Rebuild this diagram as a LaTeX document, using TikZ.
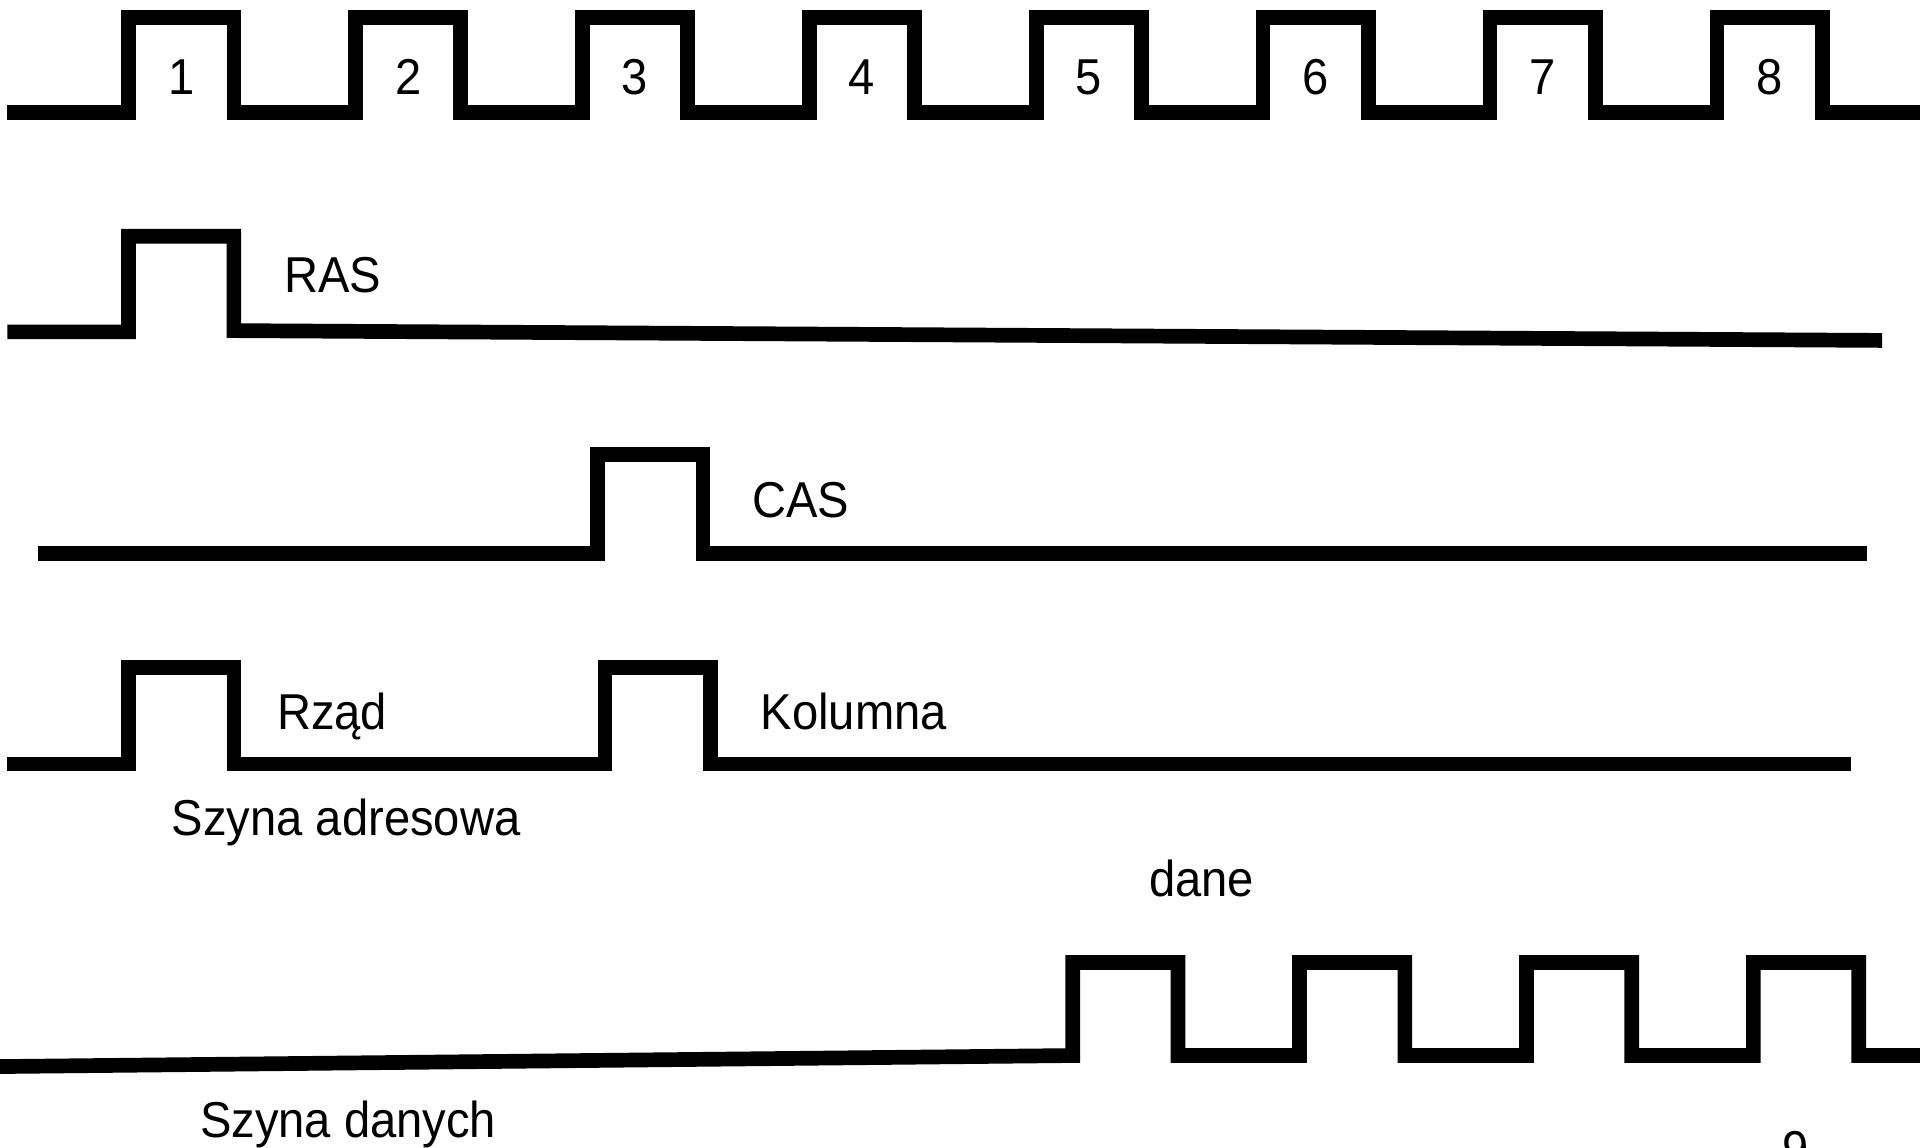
\documentclass[tikz,border=0pt]{standalone}
\usepackage{fontspec}
\setmainfont{Liberation Sans}
% slightly tall lettering
\newcommand{\tallText}[1]{\scalebox{1}[1.07]{#1}}
\begin{document}
\begin{tikzpicture}[x=0.6pt,y=-0.6pt,
  wave/.style={line width=7.2pt, line join=miter, line cap=butt},
  lbl/.style={inner sep=0pt, font=\fontsize{23.1pt}{27pt}\selectfont, anchor=base west},
  num/.style={inner sep=0pt, font=\fontsize{23.1pt}{27pt}\selectfont, anchor=base}]
\useasboundingbox (0,0) rectangle (1568,937);

% clock with eight numbered periods
\draw[wave] (6,92) foreach \k in {0,...,7} {
    -- ({105+185.3*\k},92) -- ({105+185.3*\k},14)
    -- ({191+185.3*\k},14) -- ({191+185.3*\k},92) } -- (1568,92);
\foreach \k [count=\n] in {0,...,7}
  \node[num] (clk\n) at ({148+185.3*\k},77) {\tallText{\n}};

% RAS strobe
\draw[wave] (6,271) -- (105,271) -- (105,193) -- (191,193) -- (191,270) -- (1537,278);
\node[lbl] (ras) at (232,239) {\tallText{RAS}};

% CAS strobe
\draw[wave] (31,452) -- (488,452) -- (488,371) -- (574,371) -- (574,452) -- (1525,452);
\node[lbl] (cas) at (614,423) {\tallText{CAS}};

% address bus: row, then column
\draw[wave] (6,624) -- (105,624) -- (105,545) -- (191,545) -- (191,624)
  -- (494,624) -- (494,545) -- (580,545) -- (580,624) -- (1512,624);
\node[lbl] (row) at (226,596) {\tallText{Rząd}};
\node[lbl] (col) at (621,596) {\tallText{Kolumna}};
\node[lbl] (abus) at (140,682) {\tallText{Szyna adresowa}};

% data bus: four data words
\node[lbl] (data) at (938,732) {\tallText{dane}};
\draw[wave] (0,871) foreach \k in {0,...,3} {
    -- ({876+185.3*\k},862) -- ({876+185.3*\k},786)
    -- ({962+185.3*\k},786) -- ({962+185.3*\k},862) } -- (1568,862);
\node[lbl] (dbus) at (163,929) {\tallText{Szyna danych}};

% page number at the lower edge
\node[num] (page) at (1466,953) {\tallText{9}};
\end{tikzpicture}
\end{document}
